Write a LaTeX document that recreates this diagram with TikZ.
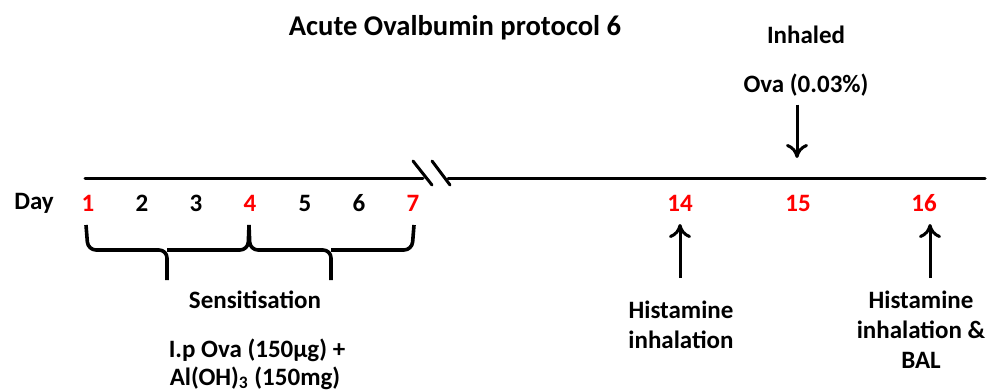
\documentclass[tikz,border=0pt]{standalone}
\usepackage{fontspec}
\setmainfont{Carlito}
\usetikzlibrary{positioning,arrows.meta}

\begin{document}
\begin{tikzpicture}[
  x=0.5pt, y=-0.5pt,
  font=\fontsize{12.5}{15}\selectfont\bfseries,
  lbl/.style={inner sep=1pt, align=center},
  dayred/.style={lbl, text=red},
  line/.style={line width=1.5pt, line cap=round},
  brc/.style={line width=1.8pt, rounded corners=4pt},
  arr/.style={line width=1.5pt, -{To[length=7pt,width=11pt,line width=1.5pt]}}
]
\useasboundingbox (0,0) rectangle (991,391);

\node[lbl, font=\fontsize{14.3}{17}\selectfont\bfseries] (title) at (455,28) {Acute Ovalbumin protocol 6};
\node[lbl] (inh) at (806,35) {Inhaled};
\node[lbl] (ova) at (806,85) {Ova (0.03\%)};

% timeline with break
\coordinate (t0) at (85,178);
\coordinate (b1) at (423,178);
\coordinate (b2) at (448,178);
\coordinate (t1) at (985,178);
\draw[line] (t0) -- (b1);
\draw[line] (b2) -- (t1);
\draw[line] (413,161) -- (432,185);
\draw[line] (432,161) -- (450,185);

% days
\node[lbl] (day) at (34,203) {Day};
\foreach \d/\x/\s in {1/88/dayred, 2/142/lbl, 3/196/lbl, 4/250/dayred,
                      5/305/lbl, 6/359/lbl, 7/413/dayred}
  \node[\s] (d\d) at (\x,203) {\d};
\node[dayred] (d14) at (680,203) {14};
\node[dayred] (d15) at (798,203) {15};
\node[dayred] (d16) at (924,203) {16};

% braces
\draw[brc] (86,225) -- (88,250) -- (167,250) -- (167,280);
\draw[brc] (167,250) -- (248,250) -- (249,225);
\draw[brc] (249,225) -- (250,250) -- (331,250) -- (331,280);
\draw[brc] (331,250) -- (412,250) -- (414,225);

\node[lbl] (sens) at (255,300) {Sensitisation};
\node[lbl] (ip) at (257,350) {I.p Ova (150µg) +};
\node[lbl] (aloh) at (255,378) {Al(OH)\textsubscript{3} (150mg)};

% arrows
\coordinate (a15) at (798,158);
\draw[arr] (ova.south) ++(-9,6) coordinate (a15s) -- (a15s |- a15);
\node[lbl] (hist14) at (681,325) {Histamine\\inhalation};
\node[lbl] (hist16) at (921,330) {Histamine\\inhalation \&\\BAL};
\draw[arr] (680,278) -- (680,224);
\draw[arr] (930,278) -- (930,224);
\end{tikzpicture}
\end{document}
